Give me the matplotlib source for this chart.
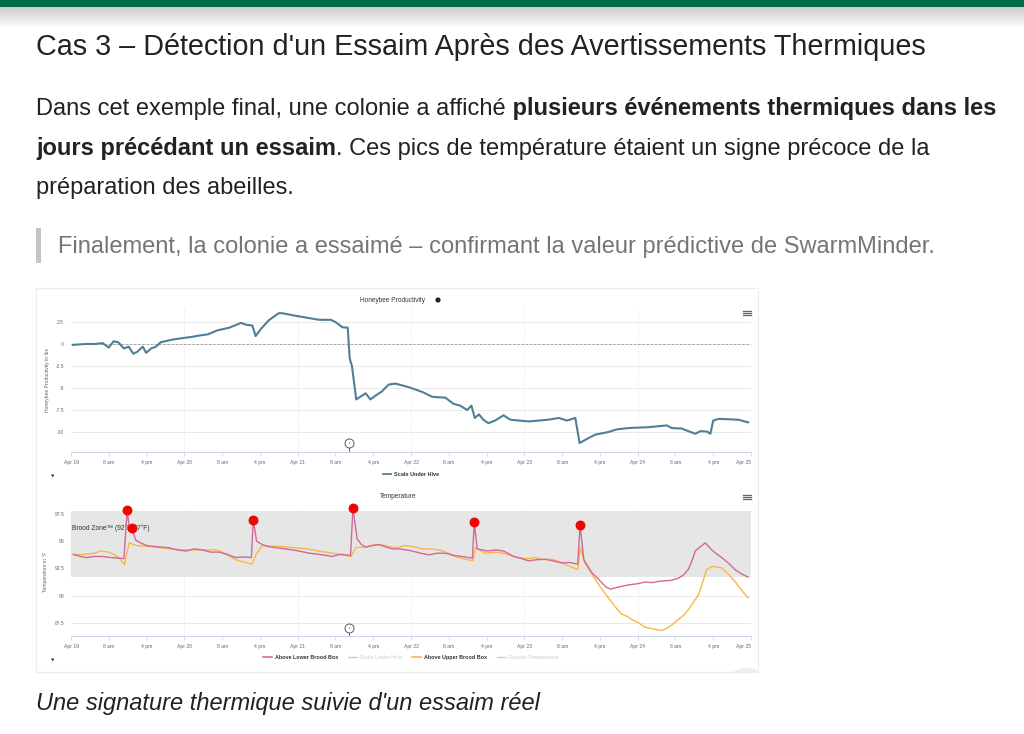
import numpy as np
import matplotlib
matplotlib.use("Agg")
import matplotlib.pyplot as plt
from matplotlib.patches import Rectangle, Circle
from matplotlib.lines import Line2D

plt.rcParams["font.family"] = ["Liberation Sans", "DejaVu Sans"]

W, H = 1024, 734

# x values are hours since Apr 19 00:00
scale_t = [0.4, 3, 5, 6.7, 8, 9, 10, 11.2, 12.2, 13.2, 14, 15.2, 15.9, 17, 18, 19,
           21.5, 24, 25.5, 27, 29, 31, 33.5, 36, 37, 38.4, 39.1, 40.2, 41.9, 44,
           44.7, 47.6, 50.4, 52.5, 55, 56, 57.5, 58.6, 59.0, 59.2, 59.5, 60.4,
           62.4, 63.4, 64.4, 65.8, 67.3, 68.7, 71.5, 74.4, 76.5, 79.3, 81, 82.4,
           83.9, 84.8, 85.5, 86.4, 87.3, 88.4, 89.8, 91.6, 93, 96.9, 101.1, 103.3,
           105, 106.8, 107.7, 109.2, 111, 113.8, 115.6, 118, 122.3, 126.2, 127.2,
           129.3, 132.2, 133.3, 134.7, 135.4, 136, 137.2, 141.3, 143.4]
scale_v = [-0.1, 0.0, 0.0, 0.1, -0.4, 0.3, 0.2, -0.5, -0.3, -1.1, -0.9, -0.3, -1.0,
           -0.5, -0.3, 0.2, 0.5, 0.7, 0.8, 0.95, 1.1, 1.55, 1.85, 2.4, 2.2, 2.1, 0.9,
           1.7, 2.7, 3.5, 3.5, 3.2, 2.95, 2.75, 2.75, 2.5, 1.9, 1.85, -1.5, -2.0,
           -2.5, -6.3, -5.6, -6.3, -5.9, -5.4, -4.6, -4.5, -4.9, -5.45, -6.0, -6.1,
           -6.8, -7.0, -7.5, -7.0, -8.4, -8.0, -8.6, -9.0, -8.7, -8.1, -8.6, -8.8,
           -8.6, -8.4, -8.7, -8.4, -11.25, -10.8, -10.3, -10.0, -9.7, -9.55, -9.45,
           -9.25, -9.55, -9.6, -10.2, -9.9, -9.95, -10.2, -8.7, -8.5, -8.6, -8.9]

lower_t = [0.5, 2, 3.2, 5, 6.7, 8.5, 10.2, 11.2, 11.9, 12.4, 12.9, 13.7, 15, 16, 18,
           20.8, 22.5, 24.4, 26, 27.9, 29.5, 31.4, 33, 34.9, 36.5, 38.2, 38.6, 39.3,
           40.5, 41.8, 43.5, 45.3, 47, 48.8, 50.5, 52.4, 54, 55.3, 57, 59.2, 59.7,
           60.6, 61.5, 62.4, 63.8, 65.2, 66.5, 68, 69.5, 72.3, 74, 75.8, 77.5, 79.3,
           81, 82.8, 85.0, 85.4, 86, 88.2, 90, 91.6, 93.8, 95.5, 96.9, 98.5, 100.4,
           102, 104, 105.5, 107.3, 107.8, 108.6, 110.3, 111.5, 112.4, 113.3, 114.2,
           116, 118.2, 120, 121.6, 123, 125, 127, 128.6, 129.7, 130.7, 131.5, 132.2,
           133.3, 134.3, 135.7, 136.8, 137.8, 139.2, 140.6, 142, 143.4]
lower_v = [93.8, 93.6, 93.5, 93.6, 93.6, 93.5, 93.45, 93.4, 97.85, 96.0, 96.2, 95.1,
           94.8, 94.6, 94.5, 94.4, 94.2, 94.1, 94.3, 94.2, 94.0, 94.0, 93.8, 93.5,
           93.55, 93.5, 96.95, 95.0, 94.7, 94.5, 94.4, 94.3, 94.2, 94.05, 93.9, 93.8,
           93.7, 93.6, 93.8, 93.7, 98.0, 95.2, 94.7, 94.45, 94.6, 94.7, 94.5, 94.3,
           94.3, 94.1, 93.9, 93.75, 93.9, 93.9, 93.7, 93.6, 93.45, 96.75, 94.3, 94.1,
           94.2, 94.1, 93.6, 93.4, 93.2, 93.3, 93.35, 93.2, 93.0, 93.05, 92.9, 96.5,
           93.3, 92.1, 91.6, 91.2, 90.8, 90.6, 90.8, 91.0, 91.1, 91.26, 91.2, 91.35,
           91.4, 91.6, 91.9, 92.4, 93.2, 94.1, 94.5, 94.85, 94.2, 93.8, 93.5, 93.0,
           92.4, 92.0, 91.7]

upper_t = [0.5, 3.2, 5, 6.3, 8, 9.5, 10.5, 11.3, 12.3, 14, 17, 20.8, 24.4, 27.9, 30.8,
           32.5, 34.9, 36.5, 38.3, 39.2, 40.5, 45, 50, 52.4, 55.5, 59.3, 60.3, 62.5,
           64.5, 66.5, 68.7, 70.8, 72.5, 74.4, 76, 77.9, 80, 81.4, 83, 85.1, 85.7,
           87.7, 90, 91.6, 93, 94.5, 96.5, 98.3, 100, 101.8, 103.5, 105, 107.3, 107.9,
           108.8, 110, 111, 112.4, 113.8, 115.2, 116.6, 117.8, 118.8, 120.2, 121.6,
           123.3, 125.1, 126.2, 127.2, 128.6, 129.7, 130.7, 131.8, 132.9, 133.8, 134.6,
           135.4, 136, 137, 137.8, 139.2, 140.6, 142, 143.4]
upper_v = [93.75, 93.8, 93.9, 94.1, 94.0, 93.7, 93.3, 92.85, 94.85, 94.6, 94.5, 94.3,
           94.2, 94.2, 94.2, 93.9, 93.3, 93.1, 92.9, 93.8, 94.6, 94.5, 94.3, 94.1,
           93.9, 93.6, 94.4, 94.5, 94.7, 94.6, 94.4, 94.6, 94.5, 94.3, 94.3, 94.2,
           93.9, 93.6, 93.4, 93.2, 94.4, 93.9, 94.0, 93.9, 93.7, 93.5, 93.4, 93.5,
           93.3, 93.35, 93.1, 92.8, 92.4, 94.4, 93.0, 92.2, 91.5, 90.6, 89.8, 89.0,
           88.3, 88.1, 87.8, 87.5, 87.1, 86.95, 86.8, 87.0, 87.3, 87.8, 88.2, 88.7,
           89.4, 90.1, 91.3, 92.4, 92.6, 92.7, 92.6, 92.55, 92.0, 91.3, 90.5, 89.8]

alert_t = [11.9, 12.9, 38.6, 59.7, 85.4, 107.8]
alert_v = [97.85, 96.2, 96.95, 98.05, 96.77, 96.5]

swarm_t = 58.9

tick_hours = list(range(0, 145, 8))
tick_labels = ["Apr 19", "8 am", "4 pm", "Apr 20", "8 am", "4 pm", "Apr 21", "8 am",
               "4 pm", "Apr 22", "8 am", "4 pm", "Apr 23", "8 am", "4 pm", "Apr 24",
               "8 am", "4 pm", "Apr 25"]

scale_ticks = [2.5, 0, -2.5, -5, -7.5, -10]
temp_ticks = [97.5, 95, 92.5, 90, 87.5]

BLUE = "#4f7f98"
PINK = "#d4679a"
ORANGE = "#f8b844"


def px_axes(x0, y0, x1, y1):
    return fig.add_axes([x0 / W, 1 - y1 / H, (x1 - x0) / W, (y1 - y0) / H])


def style_chart(ax, ylim, yticks):
    ax.set_xlim(0, 144)
    ax.set_ylim(*ylim)
    ax.set_facecolor("none")
    for s in ["top", "right", "left"]:
        ax.spines[s].set_visible(False)
    ax.spines["bottom"].set_color("#ccd6eb")
    ax.spines["bottom"].set_linewidth(0.8)
    ax.set_xticks(tick_hours)
    ax.set_xticklabels(tick_labels, fontsize=3.6, color="#666666")
    # last label is pushed inside the plot, like the original chart
    ax.get_xticklabels()[-1].set_horizontalalignment("right")
    ax.tick_params(axis="x", length=3, width=0.6, color="#ccd6eb", pad=3)
    ax.set_yticks(yticks)
    ax.set_yticklabels([f"{v:g}" for v in yticks], fontsize=3.6, color="#666666")
    ax.tick_params(axis="y", length=0, pad=5)
    for v in yticks:
        ax.axhline(v, color="#e6e6e6", lw=0.6, zorder=0)
    for d in range(24, 144, 24):
        ax.axvline(d, color="#e3e3ee", lw=0.6, ls=(0, (2, 2)), zorder=0)
    # swarm annotation
    tr = ax.get_xaxis_transform()
    ax.plot([swarm_t, swarm_t], [0, 0.04], color="#555555", lw=0.6, transform=tr,
            clip_on=False)
    ax.plot([swarm_t], [0.065], marker="o", ms=6.5, mfc="white", mec="#444444",
            mew=0.6, transform=tr, clip_on=False)
    ax.text(swarm_t, 0.065, "i", fontsize=3, ha="center", va="center",
            color="#333333", transform=tr)


fig = plt.figure(figsize=(W / 100, H / 100), dpi=100)
fig.patch.set_facecolor("white")

bg = fig.add_axes([0, 0, 1, 1])
bg.set_xlim(0, W)
bg.set_ylim(H, 0)
bg.axis("off")

# header bar with shadow
bg.add_patch(Rectangle((0, 0), W, 7, color="#006b45", lw=0))
grad = np.linspace(0, 1, 60).reshape(-1, 1)
bg.imshow(grad, cmap="gray", vmin=-3.5, vmax=1, extent=[0, W, 28, 7], aspect="auto",
          alpha=0.9)
bg.set_xlim(0, W)
bg.set_ylim(H, 0)

renderer = fig.canvas.get_renderer()


def draw_runs(x, y, runs, size, color="#222222", style="normal"):
    for s, weight in runs:
        t = bg.text(x, y, s, fontsize=size, fontweight=weight, color=color,
                    va="baseline", ha="left", fontstyle=style)
        x += t.get_window_extent(renderer=renderer).width


bg.text(36, 55, "Cas 3 – Détection d'un Essaim Après des Avertissements Thermiques",
        fontsize=20.7, color="#222222", va="baseline")

PS = 17.0
draw_runs(36, 115, [("Dans cet exemple final, une colonie a affiché", "normal"),
                    (" plusieurs événements thermiques dans les", "bold")], PS)
draw_runs(36, 155, [("jours précédant un essaim", "bold"),
                    (". Ces pics de température étaient un signe précoce de la", "normal")], PS)
draw_runs(36, 194, [("préparation des abeilles.", "normal")], PS)

bg.add_patch(Rectangle((36, 228), 5, 35, color="#c4c4c4", lw=0))
bg.text(58, 253, "Finalement, la colonie a essaimé – confirmant la valeur prédictive de SwarmMinder.",
        fontsize=PS, color="#757575", va="baseline")

bg.text(36, 710, "Une signature thermique suivie d'un essaim réel", fontsize=PS,
        fontstyle="italic", color="#222222", va="baseline")

# chart image frame
bg.add_patch(Rectangle((36, 288), 722, 384, fc="white", ec="#ececec", lw=0.8))
bump = Circle((747, 694), 26, color="#eeeeee", lw=0)
bg.add_patch(bump)
bump.set_clip_path(Rectangle((36, 288), 722, 384, transform=bg.transData))

# titles, menus, dropdown arrows
bg.text(393, 300, "Honeybee Productivity", fontsize=4.7, color="#333333",
        ha="center", va="center")
bg.add_patch(Circle((438, 300), 2.6, color="#222222", lw=0))
bg.text(398, 496, "Temperature", fontsize=4.7, color="#333333", ha="center",
        va="center")
for yc in (313, 497):
    for dy in (-2.2, 0, 2.2):
        bg.plot([743, 751], [yc + dy, yc + dy], color="#666666", lw=0.9)
for yc in (476, 661):
    bg.text(53, yc, "▼", fontsize=3.2, color="#333333", ha="center", va="center",
            family="DejaVu Sans")

# labels of the y axes
bg.text(47, 380, "Honeybee Productivity in lbs", fontsize=3.6, color="#666666",
        rotation=90, ha="center", va="center")
bg.text(45, 572, "Temperature in °F", fontsize=3.6, color="#666666",
        rotation=90, ha="center", va="center")

# top chart
ax1 = px_axes(71, 308, 751, 452)
style_chart(ax1, (-12.27, 4.09), scale_ticks)
ax1.axhline(0, color="#9a9a9a", lw=0.6, ls=(0, (3, 2)), zorder=1)
ax1.plot(scale_t, scale_v, color=BLUE, lw=1.5, zorder=3)
leg1 = ax1.legend([Line2D([], [], color=BLUE, lw=1.3)], ["Scale Under Hive"],
                  loc="center", bbox_to_anchor=(0.5, -0.155), frameon=False,
                  prop={"size": 4.0, "weight": "bold"}, handlelength=1.6,
                  handletextpad=0.5)
for txt in leg1.get_texts():
    txt.set_color("#333333")

# bottom chart
ax2 = px_axes(71, 508, 751, 636)
style_chart(ax2, (86.3, 98.05), temp_ticks)
ax2.axhspan(91.72, 97.78, color="#e6e6e6", lw=0, zorder=0.5)
ax2.text(0.3, 96.2, "Brood Zone™ (92°F-97°F)", fontsize=4.8, color="#333333",
         va="center", ha="left", zorder=1)
ax2.plot(upper_t, upper_v, color=ORANGE, lw=1.0, zorder=3)
ax2.plot(lower_t, lower_v, color=PINK, lw=1.0, zorder=4)
ax2.plot(alert_t, alert_v, ls="none", marker="o", ms=6.5, mfc="#ff0000",
         mec="#e00000", mew=0.6, zorder=6, clip_on=False)
for t, v in zip(alert_t, alert_v):
    ax2.text(t, v, "!", fontsize=3, color="#550000", ha="center", va="center",
             zorder=7, fontweight="bold")

handles = [Line2D([], [], color=PINK, lw=1.2), Line2D([], [], color="#cccccc", lw=1.0),
           Line2D([], [], color=ORANGE, lw=1.2), Line2D([], [], color="#cccccc", lw=1.0)]
names = ["Above Lower Brood Box", "Scale Under Hive", "Above Upper Brood Box",
         "Outside Temperature"]
leg2 = ax2.legend(handles, names, loc="center", bbox_to_anchor=(0.5, -0.165), ncol=4,
                  frameon=False, prop={"size": 3.9, "weight": "bold"},
                  handlelength=1.6, handletextpad=0.5, columnspacing=1.9)
for i, txt in enumerate(leg2.get_texts()):
    if i in (1, 3):
        txt.set_color("#cccccc")
        txt.set_fontweight("normal")
    else:
        txt.set_color("#333333")

fig.savefig("out.png", dpi=100, facecolor="white")
